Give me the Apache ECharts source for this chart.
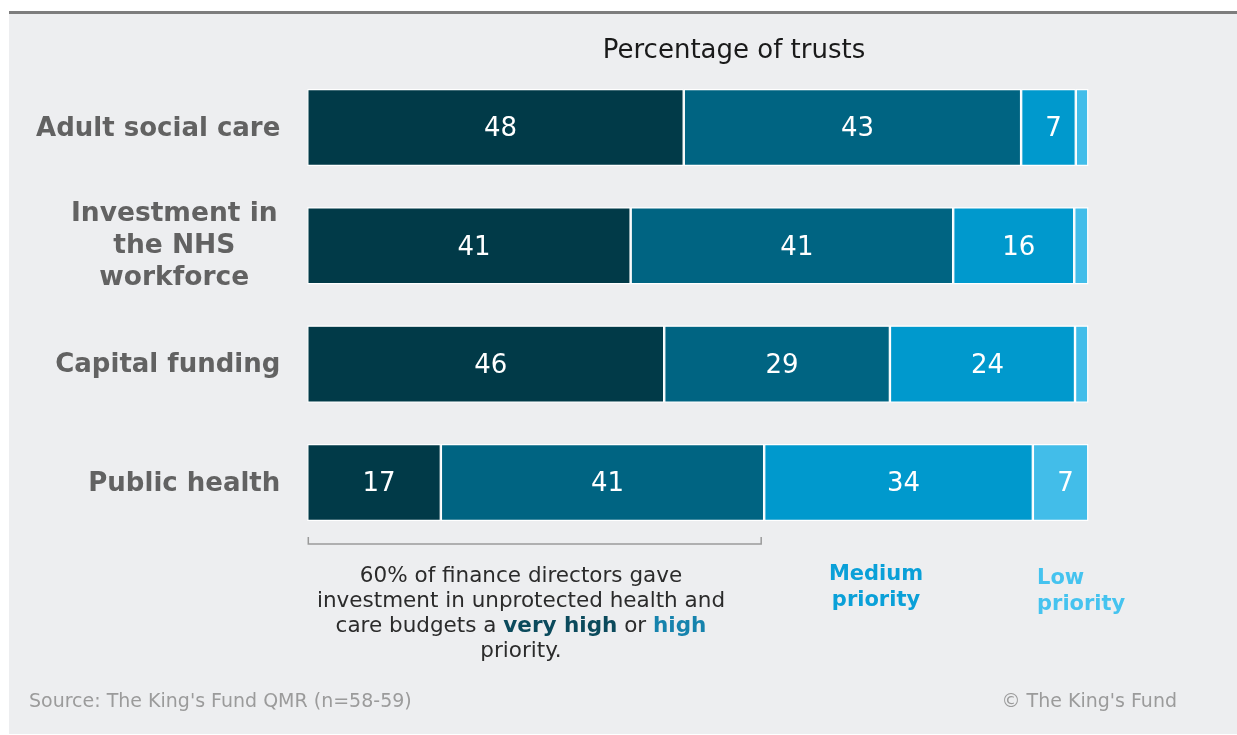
<!DOCTYPE html>
<html>
<head>
<meta charset="utf-8">
<style>
html,body{margin:0;padding:0;background:#ffffff;}
#chart{width:1237px;height:735px;}
</style>
<script src="https://cdn.jsdelivr.net/npm/echarts@6/dist/echarts.min.js"></script>
</head>
<body>
<div id="chart"></div>
<script>
// ---- data ----
const categories = ['Adult social care', 'Investment in\nthe NHS\nworkforce', 'Capital funding', 'Public health'];
const veryHigh = [48.2, 41.4, 45.7, 17.1];
const high     = [43.2, 41.3, 28.9, 41.4];
const medium   = [7.0, 15.5, 23.7, 34.4];
const low      = [1.6, 1.8, 1.7, 7.1];
const seriesNames = ['Very high priority', 'High priority', 'Medium priority', 'Low priority'];
const seriesData = [veryHigh, high, medium, low];
const colors = ['#013a48', '#006482', '#0099cd', '#42bde9'];
const title = 'Percentage of trusts';
const note = ['60% of finance directors gave', 'investment in unprotected health and', 'care budgets a ', 'very high', ' or ', 'high', 'priority.'];
const sourceText = "Source: The King's Fund QMR (n=58-59)";
const copyrightText = "\u00a9 The King's Fund";
const FONT = '"DejaVu Sans", Verdana, sans-serif';

const chart = echarts.init(document.getElementById('chart'), null, {renderer: 'canvas'});

const series = seriesData.map((d, i) => ({
  name: seriesNames[i],
  type: 'bar',
  stack: 'total',
  data: d,
  barWidth: 77,
  itemStyle: {color: colors[i], borderColor: '#ffffff', borderWidth: 1.2},
  label: {
    show: true,
    position: 'inside',
    offset: [5, 2],
    color: '#ffffff',
    fontFamily: FONT,
    fontSize: 26,
    formatter: p => (p.value >= 3 ? String(Math.round(p.value)) : '')
  },
  emphasis: {disabled: true},
  silent: true
}));

const option = {
  animation: false,
  backgroundColor: 'transparent',
  grid: {left: 307.3, right: 1237 - 1088.3, top: 68.3, height: 473.3, containLabel: false},
  xAxis: {type: 'value', min: 0, max: 100, show: false},
  yAxis: {
    type: 'category',
    data: categories,
    inverse: true,
    axisLine: {show: false},
    axisTick: {show: false},
    axisLabel: {
      margin: 27,
      fontFamily: FONT,
      fontWeight: 'bold',
      fontSize: 26,
      color: '#626262',
      lineHeight: 32,
      formatter: v => {
        if (v.indexOf('\n') < 0) return '{s|' + v + '}';
        return v.split('\n').map(l => '{m|' + l + '}').join('\n');
      },
      rich: {
        s: {fontFamily: FONT, fontWeight: 'bold', fontSize: 26, color: '#626262', lineHeight: 32, padding: [3, 0, 0, 0]},
        m: {fontFamily: FONT, fontWeight: 'bold', fontSize: 26.5, color: '#626262', lineHeight: 32, width: 212, align: 'center'}
      }
    }
  },
  series: series,
  graphic: []
};
chart.setOption(option);

// annotations positioned via the chart's scales
const bracketEnd = veryHigh[3] + high[3];
const pStart = chart.convertToPixel({gridIndex: 0}, [0, 3]);
const pEnd = chart.convertToPixel({gridIndex: 0}, [bracketEnd, 3]);
const barBottom = pStart[1] + 77 / 2;
const by = barBottom + 23;

const graphics = [
  {type: 'rect', z: -10, silent: true, shape: {x: 9, y: 13, width: 1228, height: 721}, style: {fill: '#edeef0'}},
  {type: 'rect', z: -9, silent: true, shape: {x: 9, y: 11, width: 1228, height: 3}, style: {fill: '#7d7d7d'}},
  {type: 'text', silent: true, x: 734, y: 51, style: {text: title, font: '26px ' + FONT, fill: '#1a1a1a', textAlign: 'center', textVerticalAlign: 'middle'}},
  {type: 'polyline', silent: true, shape: {points: [[pStart[0] + 1, by - 7], [pStart[0] + 1, by], [pEnd[0] - 3, by], [pEnd[0] - 3, by - 7]]}, style: {stroke: '#9a9a9a', lineWidth: 1.5, fill: null}},
  {type: 'text', silent: true, x: 521, y: 614, style: {
    text: '{n|' + note[0] + '}\n{n|' + note[1] + '}\n{n|' + note[2] + '}{v|' + note[3] + '}{n|' + note[4] + '}{h|' + note[5] + '}\n{n|' + note[6] + '}',
    rich: {
      n: {font: '21.5px ' + FONT, fill: '#2b2b2b', lineHeight: 25},
      v: {font: 'bold 21.5px ' + FONT, fill: '#0b4a5c', lineHeight: 25},
      h: {font: 'bold 21.5px ' + FONT, fill: '#1683ad', lineHeight: 25}
    },
    textAlign: 'center', textVerticalAlign: 'middle'
  }},
  {type: 'text', silent: true, x: 876, y: 588, style: {text: 'Medium\npriority', font: 'bold 21px ' + FONT, fill: '#0aa0d8', textAlign: 'center', textVerticalAlign: 'middle', lineHeight: 26}},
  {type: 'text', silent: true, x: 1037, y: 592, style: {text: 'Low\npriority', font: 'bold 21px ' + FONT, fill: '#45c3ef', textAlign: 'left', textVerticalAlign: 'middle', lineHeight: 26}},
  {type: 'text', silent: true, x: 29, y: 702, style: {text: sourceText, font: '19px ' + FONT, fill: '#9b9b9b', textAlign: 'left', textVerticalAlign: 'middle'}},
  {type: 'text', silent: true, x: 1177, y: 702, style: {text: copyrightText, font: '19px ' + FONT, fill: '#9b9b9b', textAlign: 'right', textVerticalAlign: 'middle'}}
];
chart.setOption({graphic: graphics});
</script>
</body>
</html>
